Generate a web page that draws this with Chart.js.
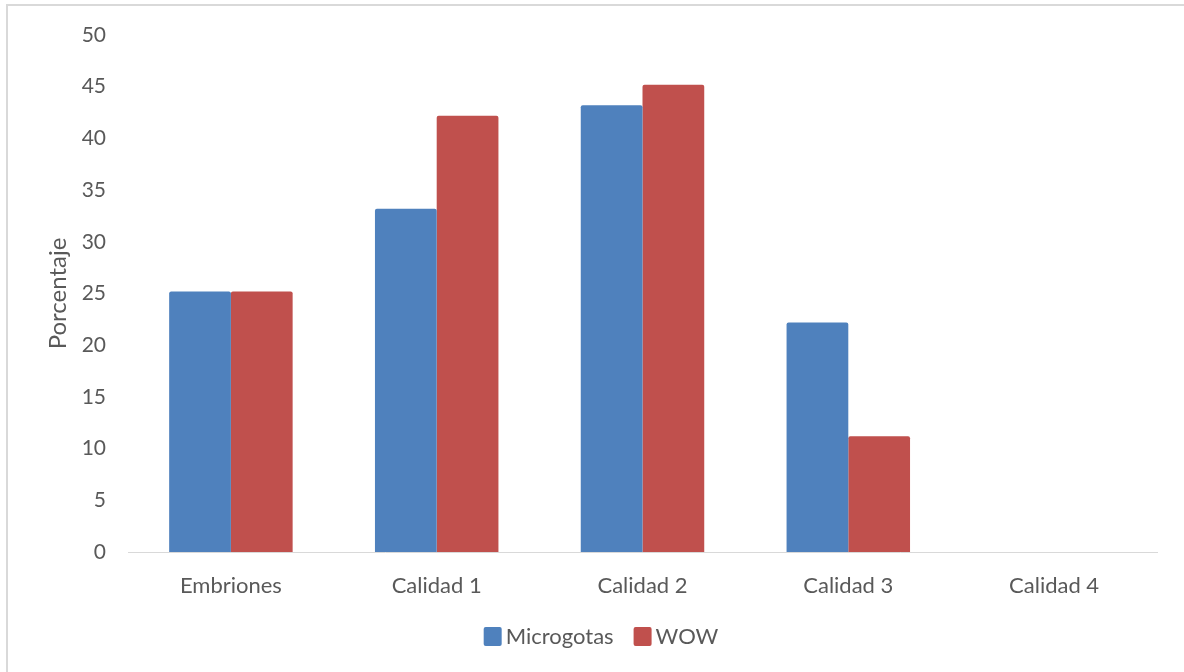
<!DOCTYPE html>
<html>
<head>
<meta charset="utf-8">
<script src="https://cdn.jsdelivr.net/npm/chart.js@4.4.1/dist/chart.umd.min.js"></script>
<style>
  html, body { margin: 0; padding: 0; background: #ffffff; }
  #wrap { width: 1184px; height: 672px; position: relative; }
</style>
</head>
<body>
<div id="wrap"><canvas id="c" width="1184" height="672"></canvas></div>
<script>
// Categories and series values (percent)
const categories = ['Embriones', 'Calidad 1', 'Calidad 2', 'Calidad 3', 'Calidad 4'];
const microgotas = [25.2, 33.2, 43.2, 22.2, 0];
const wow = [25.2, 42.2, 45.2, 11.2, 0];
const yTicks = [0, 5, 10, 15, 20, 25, 30, 35, 40, 45, 50];

const textColor = '#595959';
const fontFamily = 'Lato, "Open Sans", sans-serif';
const frame = { x: 7, y: 5, w: 1188, h: 690 };

// Light frame around the whole chart
const framePlugin = {
  id: 'frame',
  beforeDraw(chart) {
    const ctx = chart.ctx;
    ctx.save();
    ctx.fillStyle = '#ffffff';
    ctx.fillRect(0, 0, chart.width, chart.height);
    ctx.strokeStyle = '#d9d9d9';
    ctx.lineWidth = 2;
    ctx.strokeRect(frame.x, frame.y, frame.w, frame.h);
    ctx.restore();
  }
};

// Compact legend: square swatch right next to its label, centred in the frame
const legendPlugin = {
  id: 'compactLegend',
  afterDraw(chart) {
    const ctx = chart.ctx;
    const box = 18, gap = 4, itemGap = 20, cy = 637;
    ctx.save();
    ctx.font = '22px ' + fontFamily;
    ctx.textBaseline = 'middle';
    const items = chart.data.datasets.map(ds => ({
      label: ds.label, color: ds.backgroundColor, w: ctx.measureText(ds.label).width
    }));
    const total = items.reduce((s, it) => s + box + gap + it.w, 0) + itemGap * (items.length - 1);
    let x = frame.x + frame.w / 2 - total / 2;
    items.forEach(it => {
      ctx.fillStyle = it.color;
      ctx.beginPath();
      ctx.roundRect(x, cy - 10, box, 19, 2);
      ctx.fill();
      x += box + gap;
      ctx.fillStyle = textColor;
      ctx.textAlign = 'left';
      ctx.fillText(it.label, x, cy);
      x += it.w + itemGap;
    });
    ctx.restore();
  }
};

new Chart(document.getElementById('c'), {
  type: 'bar',
  data: {
    labels: categories,
    datasets: [
      { label: 'Microgotas', data: microgotas, backgroundColor: '#4F81BD', borderRadius: 2, borderSkipped: 'bottom' },
      { label: 'WOW', data: wow, backgroundColor: '#C0504D', borderRadius: 2, borderSkipped: 'bottom' }
    ]
  },
  options: {
    responsive: false,
    animation: false,
    devicePixelRatio: 1,
    layout: { padding: { left: 8, right: 27, top: 35, bottom: 60 } },
    datasets: { bar: { categoryPercentage: 0.6, barPercentage: 1.0 } },
    plugins: {
      legend: { display: false },
      tooltip: { enabled: false }
    },
    scales: {
      x: {
        afterFit(scale) { scale.height = 60; },
        grid: { display: false },
        border: { display: true, color: '#d9d9d9', width: 1 },
        ticks: { color: textColor, font: { family: fontFamily, size: 22 }, padding: 13 }
      },
      y: {
        min: 0,
        max: 50,
        afterBuildTicks(scale) { scale.ticks = yTicks.map(v => ({ value: v })); },
        afterFit(scale) { scale.width = 120; },
        grid: { display: false, drawTicks: false },
        border: { display: false },
        ticks: { color: textColor, font: { family: fontFamily, size: 21 }, padding: 22 },
        title: {
          display: true,
          text: 'Porcentaje',
          color: textColor,
          font: { family: fontFamily, size: 24 },
          padding: { top: 36, bottom: 0 }
        }
      }
    }
  },
  plugins: [framePlugin, legendPlugin]
});
</script>
</body>
</html>
